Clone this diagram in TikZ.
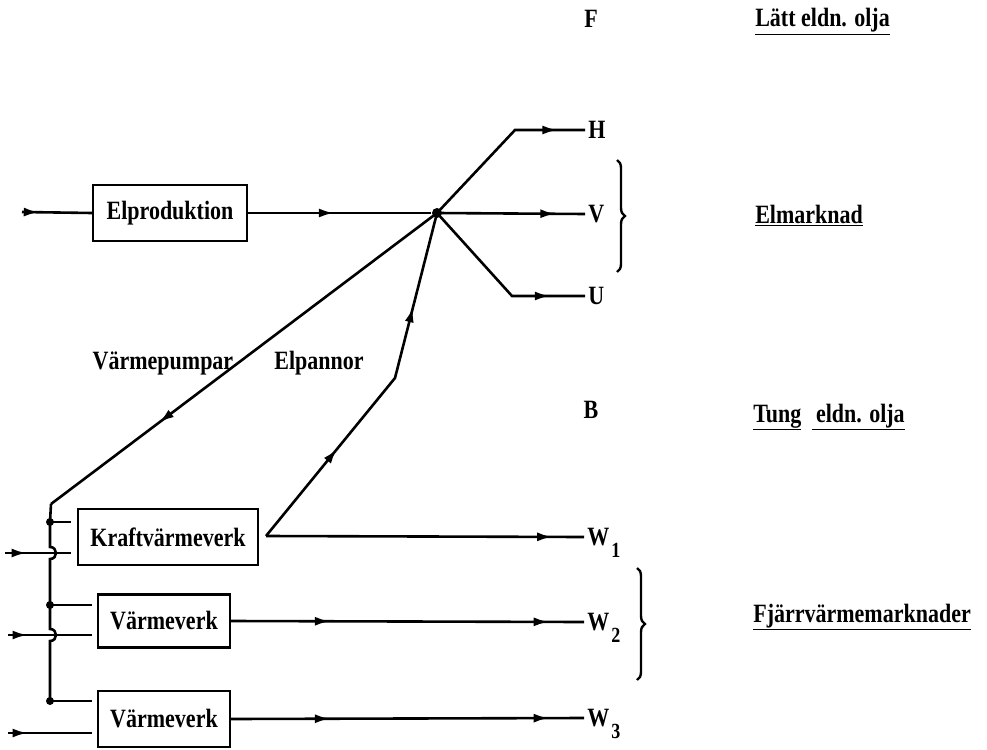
\documentclass[tikz,border=0pt]{standalone}
\usepackage{fontspec}
\setmainfont{Liberation Serif}
\usepackage{graphicx}
\usetikzlibrary{arrows.meta,decorations.markings,decorations.pathreplacing}
\newcommand{\vst}[1]{\scalebox{1}[1.2]{\bfseries #1}}
\newcommand{\wsub}[1]{\kern2pt\raisebox{-10pt}[0pt][0pt]{\fontsize{18}{20}\selectfont #1}}
\begin{document}
\begin{tikzpicture}[x=1pt,y=-1pt,
  line width=2.6pt,
  txt/.style={font=\fontsize{22}{26}\selectfont\bfseries, inner sep=2pt},
  box/.style={draw, txt, minimum height=56pt, inner sep=0pt, line width=2.2pt},
  dot/.style={circle, fill, inner sep=0pt, minimum size=8pt},
  arr/.style={postaction={decorate}, decoration={markings, mark=at position #1 with {\arrow{Latex[length=15pt,width=9pt]}}}},
  arrtwo/.style 2 args={postaction={decorate}, decoration={markings, mark=at position #1 with {\arrow{Latex[length=15pt,width=9pt]}}, mark=at position #2 with {\arrow{Latex[length=15pt,width=9pt]}}}},
  brc/.style={decorate, decoration={brace, amplitude=8pt}, line width=2.4pt}
]
\useasboundingbox[fill=white] (0,0) rectangle (987,749);

% boxes
\node[box, minimum width=154pt] (E) at (170,213) {\vst{Elproduktion}};
\node[box, minimum width=180pt] (K) at (168,537) {\vst{Kraftvärmeverk}};
\node[box, minimum width=132pt, minimum height=53pt] (V1) at (164,621) {\vst{Värmeverk}};
\node[box, minimum width=132pt] (V2) at (164,719) {\vst{Värmeverk}};

% hub
\node[dot, minimum size=10pt] (hub) at (437,213) {};

% right labels
\node[txt] (F) at (591,19) {\vst{F}};
\node[txt, anchor=base west] (LE) at (752,27) {\vst{\underline{Lätt eldn. olja}}};
\node[txt, anchor=west] (H) at (585,130) {\vst{H}};
\node[txt, anchor=west] (V) at (585,214) {\vst{V}};
\node[txt, anchor=west] (U) at (585,296) {\vst{U}};
\node[txt, anchor=base west] (EM) at (752,223) {\vst{\underline{Elmarknad}}};
\node[txt] (B) at (591,410) {\vst{B}};
\node[txt, anchor=base west] (TE) at (750,422) {\vst{\underline{Tung}\ \ \underline{\,eldn. olja}}};
\node[txt, anchor=west] (W1) at (584,537) {\vst{W\wsub{1}}};
\node[txt, anchor=west] (W2) at (584,622) {\vst{W\wsub{2}}};
\node[txt, anchor=west] (W3) at (584,718) {\vst{W\wsub{3}}};
\node[txt, anchor=base west] (FM) at (750,622) {\vst{\underline{Fjärrvärmemarknader}}};

% middle labels
\node[txt] (VP) at (163,363) {\vst{Värmepumpar}};
\node[txt] (EP) at (319,363) {\vst{Elpannor}};

% coordinates
\coordinate (i0) at (22,212);
\coordinate (hc) at (515,130);
\coordinate (uc) at (512,296);
\coordinate (kj) at (266,536);
\coordinate (pc) at (395,378);
\coordinate (bt) at (51,504);
\node[dot] (d1) at (50,522) {};
\node[dot] (d2) at (50,605) {};
\node[dot] (d3) at (50,701) {};
\coordinate (in1) at (5,553);
\coordinate (in2) at (8,635);
\coordinate (in3) at (8,733);

% electricity
\draw[arr=0.24] (i0) -- (E.west);
\draw[arr=0.47] (E.east) -- (hub);
\draw[arr=0.85] (hub.center) -- (hc) -- (H.west);
\draw[arr=0.8] (hub.center) -- (V.west);
\draw[arr=0.81] (hub.center) -- (uc) -- (U.west);
\draw[arr=0.72] (hub.center) -- (bt);
\draw[arrtwo={0.3}{0.74}] (kj) -- (pc) -- (hub.center);

% heat
\draw[arr=0.9] (kj) -- (W1.west);
\draw[arrtwo={0.28}{0.9}] (V1.east) -- (W2.west);
\draw[arrtwo={0.28}{0.9}] (V2.east) -- (W3.west);

% bus
\draw (bt) -- (d1.center) -- (50,547) .. controls (58,547) and (58,559) .. (50,559)
  -- (d2.center) -- (50,629) .. controls (58,629) and (58,641) .. (50,641) -- (d3.center);
\draw[shorten >=6pt] (d1.center) -- (d1 -| K.west);
\draw[shorten >=5pt] (d2.center) -- (d2 -| V1.west);
\draw[shorten >=5pt] (d3.center) -- (d3 -| V2.west);
\draw[arr=0.3, shorten >=6pt] (in1) -- (in1 -| K.west);
\draw[arr=0.22, shorten >=5pt] (in2) -- (in2 -| V1.west);
\draw[arr=0.22, shorten >=5pt] (in3) -- (in3 -| V2.west);

% braces
\draw[brc] (617,160) -- (617,272);
\draw[brc] (637,568) -- (637,680);
\end{tikzpicture}
\end{document}
